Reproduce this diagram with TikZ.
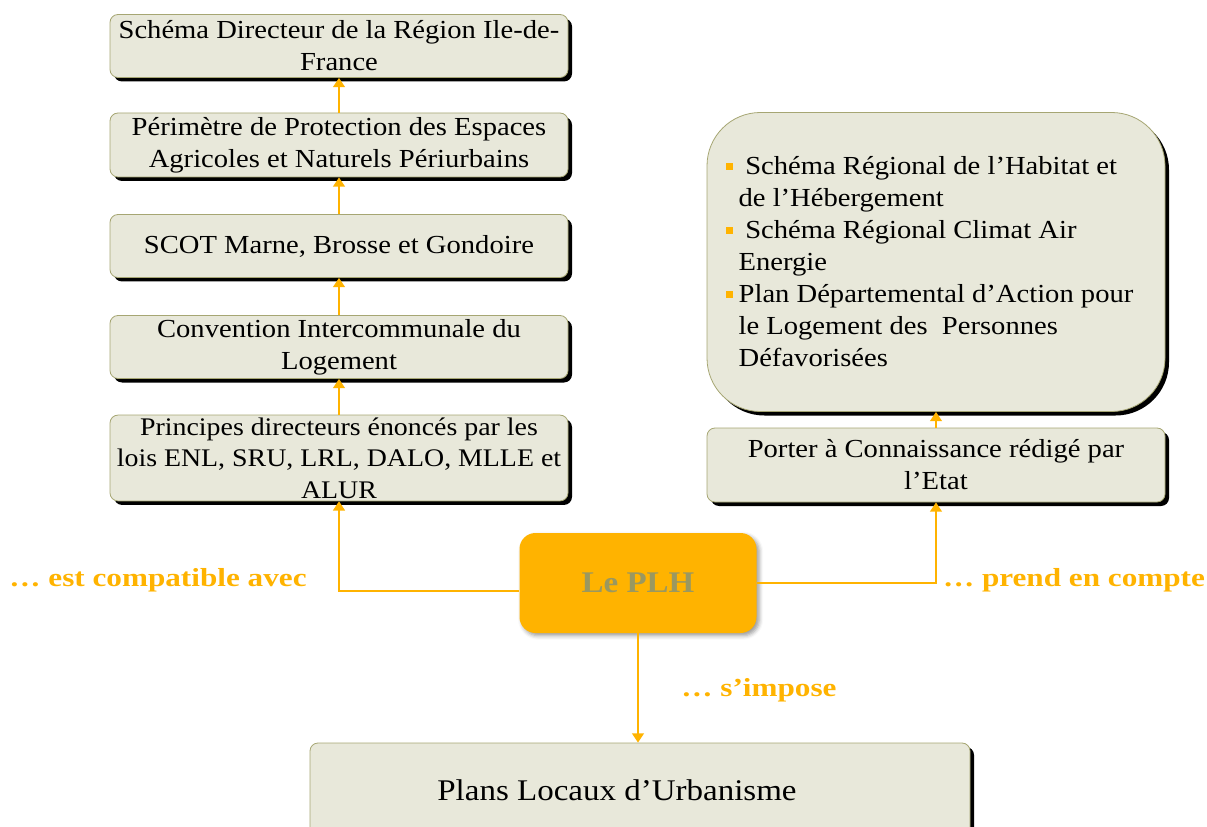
\documentclass[tikz,border=0pt]{standalone}
\usepackage{fontspec}
\setmainfont{Liberation Serif}[FakeStretch=1.1]
\newfontfamily\relfont{Liberation Serif}[FakeStretch=1.2]
\usetikzlibrary{arrows.meta,shadows,shadows.blur}

\definecolor{boxfill}{HTML}{E8E8DA}
\definecolor{boxline}{HTML}{A6A673}
\definecolor{plhorange}{HTML}{FFB300}
\definecolor{plhtext}{HTML}{9A9860}

\newcommand\sqbul{\textcolor{plhorange}{\raisebox{4pt}{\rule{5pt}{5pt}}}}

\begin{document}
\begin{tikzpicture}[x = .75pt, y = -.75pt,
    doc/.style = {draw = boxline, line width = .6pt, fill = boxfill,
      rounded corners = 6pt, align = center, inner sep = 2pt,
      minimum width = 343.5pt, font = \fontsize{19.5}{24}\selectfont,
      drop shadow = {shadow xshift = 3pt, shadow yshift = -3pt,
        fill = black, opacity = 1}},
    link/.style = {draw = plhorange, line width = 1.3pt,
      -{Triangle[width = 9pt, length = 7pt]}},
    rel/.style = {text = plhorange, font = \relfont\bfseries\fontsize{19.5}{24}\selectfont}]
    \useasboundingbox (0,0) rectangle (1207,827);

    % chaine de compatibilite
    \node [doc, minimum height = 47.25pt] (sdrif) at (339,46)
      {Schéma Directeur de la Région Ile-de-\\France};
    \node [doc, minimum height = 48pt] (ppeanp) at (339,145)
      {Périmètre de Protection des Espaces\\Agricoles et Naturels Périurbains};
    \node [doc, minimum height = 47.25pt] (scot) at (339,246)
      {SCOT Marne, Brosse et Gondoire};
    \node [doc, minimum height = 47.25pt] (cil) at (339,347)
      {Convention Intercommunale du\\Logement};
    \node [doc, minimum height = 63.75pt, font = \fontsize{19}{23.5}\selectfont] (lois) at (339,458)
      {Principes directeurs énoncés par les\\lois ENL, SRU, LRL, DALO, MLLE et\\ALUR};

    % prise en compte
    \node [doc, minimum height = 55.5pt] (pac) at (936,465)
      {Porter à Connaissance rédigé par\\l’Etat};
    \node [doc, align = left, rounded corners = 40pt, minimum height = 224.25pt] (srhh) at (936,262)
      {\llap{\sqbul\hspace{4.5pt}}\hspace*{5pt}Schéma Régional de l’Habitat et\\
       de l’Hébergement\\
       \llap{\sqbul\hspace{4.5pt}}\hspace*{5pt}Schéma Régional Climat Air\\
       Energie\\
       \llap{\sqbul\hspace{4.5pt}}Plan Départemental d’Action pour\\
       le Logement des\ \ Personnes\\
       Défavorisées};

    % le PLH
    \node [fill = plhorange, rounded corners = 12pt, minimum width = 177.75pt,
      minimum height = 75pt, text = plhtext,
      font = \bfseries\fontsize{22.5}{26}\selectfont,
      blur shadow = {shadow xshift = 2pt, shadow yshift = -2pt,
        shadow blur radius = 3pt, shadow opacity = 40}] (plh) at (638,583) {Le PLH};

    \node [doc, minimum width = 495pt, minimum height = 70.5pt,
      font = \fontsize{22.5}{26}\selectfont] (plu) at (640,790)
      {Plans Locaux d’Urbanisme\hspace{34.5pt}};

    \draw [link] (ppeanp) -- (sdrif);
    \draw [link] (scot) -- (ppeanp);
    \draw [link] (cil) -- (scot);
    \draw [link] (lois) -- (cil);
    \draw [link] ([yshift = -6pt]plh.west) -| (lois.south);
    \draw [link] (plh.east) -| (pac.south);
    \draw [link] (pac) -- (srhh);
    \draw [link] (plh.south) -- (plh.south |- plu.north);

    \node [rel] (compat) at (158,580) {… est compatible avec};
    \node [rel] (compte) at (1074,580) {… prend en compte};
    \node [rel] (impose) at (759,690) {… s’impose};
  \end{tikzpicture}
\end{document}
